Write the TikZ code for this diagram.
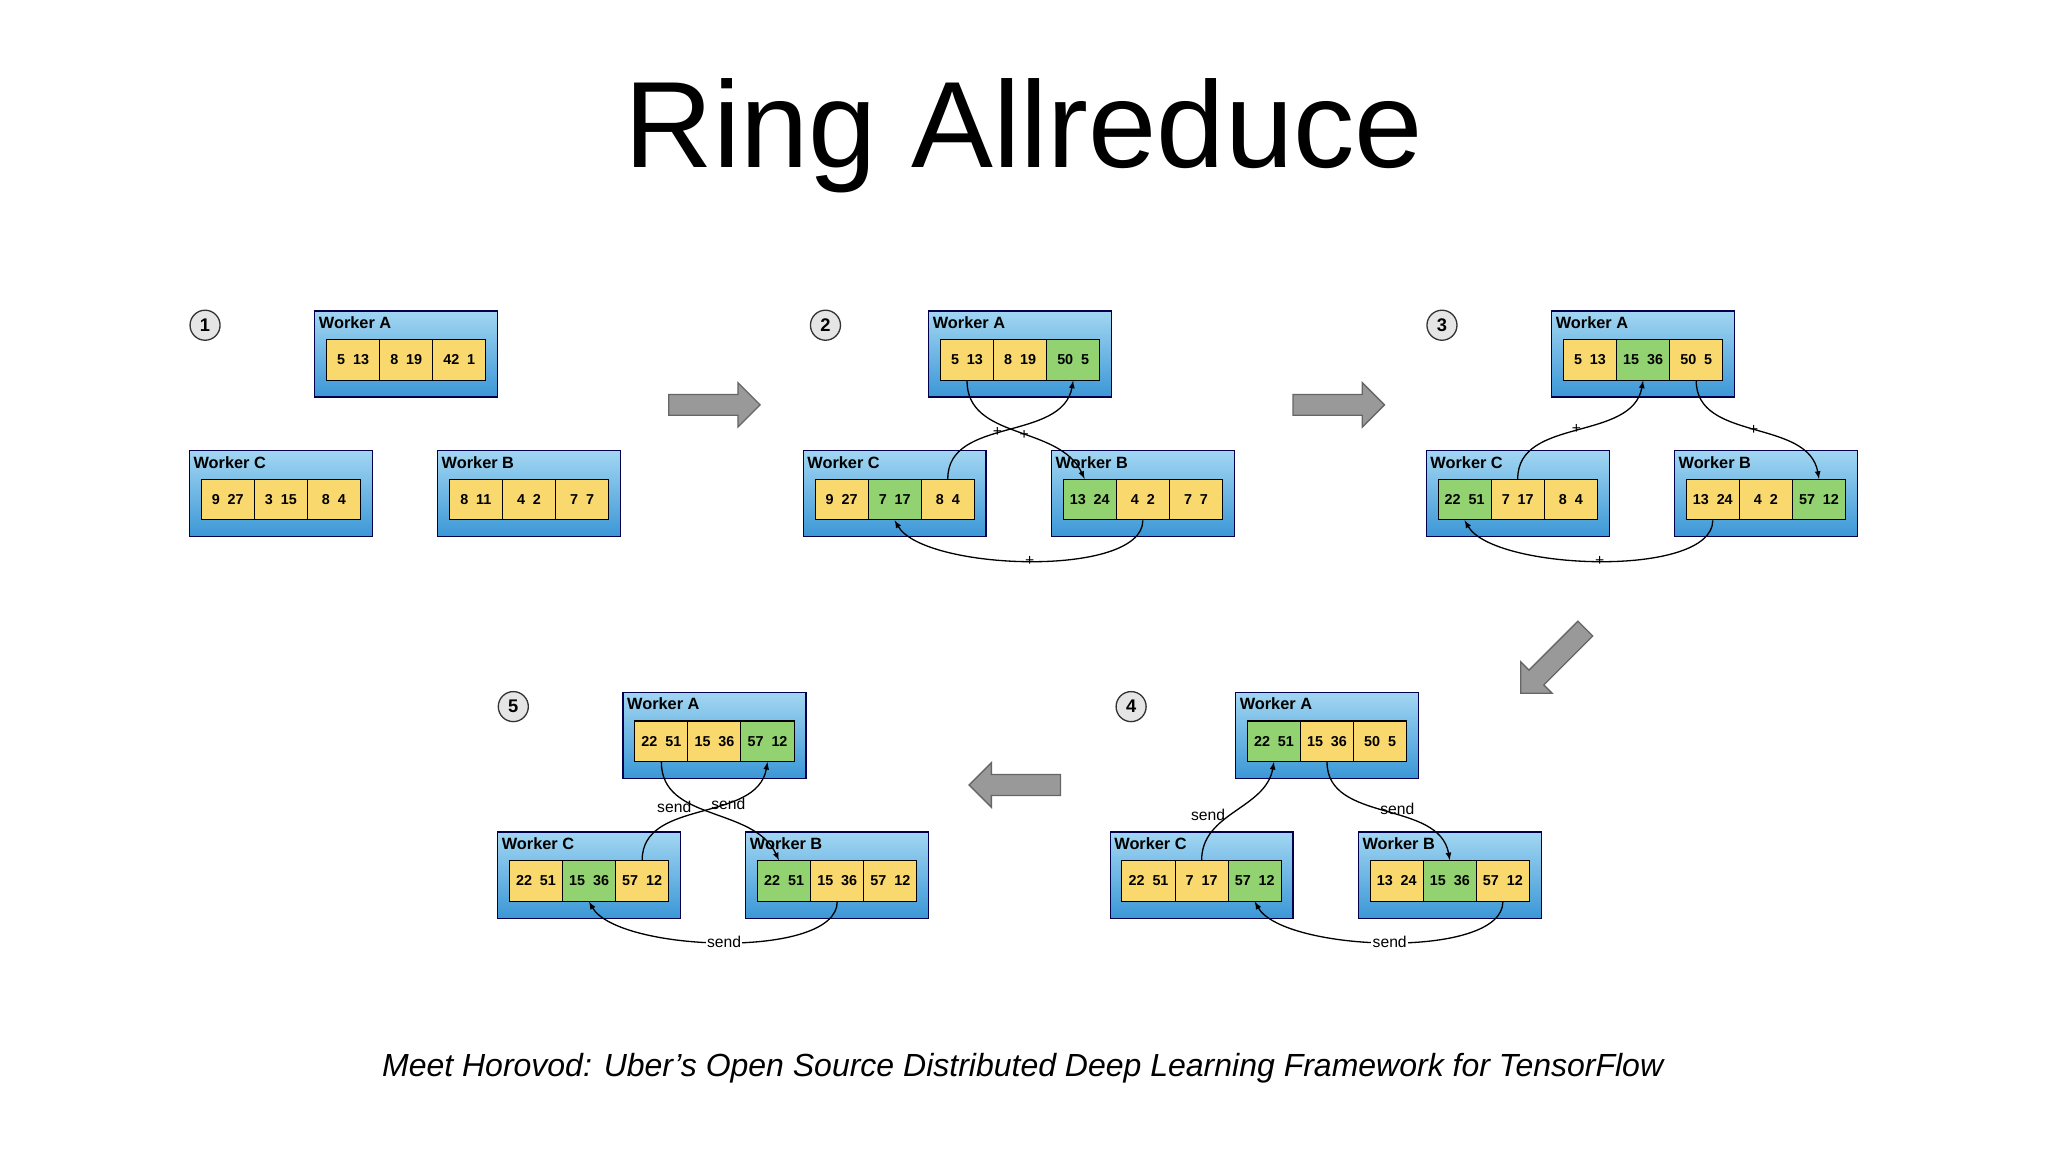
\documentclass[tikz,border=0pt]{standalone}
\usepackage{fontspec}
\setmainfont{Liberation Sans}
\definecolor{btop}{HTML}{A2D6F2}
\definecolor{bbot}{HTML}{3B97D6}
\definecolor{cyel}{HTML}{F9D96E}
\definecolor{cgrn}{HTML}{93D270}
\begin{document}
\begin{tikzpicture}[x=1pt,y=-1pt,
  box/.style={draw=black!70!blue,line width=1pt,top color=btop,bottom color=bbot,minimum width=140pt,minimum height=66pt,inner sep=0pt},
  cell/.style={draw=black,line width=0.8pt,minimum width=40.7pt,minimum height=31pt,inner sep=0pt,font=\fontsize{11}{12}\selectfont\bfseries},
  cy/.style={fill=cyel},
  cg/.style={fill=cgrn},
  wlab/.style={anchor=west,inner sep=0pt,font=\fontsize{12.5}{14}\selectfont\bfseries},
  num/.style={circle,draw=black!80,line width=1pt,fill=black!10,minimum size=23pt,inner sep=0pt,font=\fontsize{14}{16}\selectfont\bfseries},
  conn/.style={draw=black,line width=1pt,-latex},
  lbl/.style={font=\fontsize{12}{14}\selectfont,fill=white,inner sep=1pt},
  big/.style={fill=black!40,draw=black!60,line width=1pt}]
\useasboundingbox[fill=white] (0,0) rectangle (1568,882);
\newcommand\wk[9]{%
 \begin{scope}[shift={#2}]
 \node[box] (#1) at (70,33) {};
 \node[wlab] at (3,9) {Worker #3};
 \node[cell,#7] (#11) at (29.35,37.5) {#4};
 \node[cell,#8] (#12) at (70,37.5) {#5};
 \node[cell,#9] (#13) at (110.65,37.5) {#6};
 \end{scope}}
\newcommand\pr[2]{#1\hspace{0.55em}#2}
\newcommand\bigarrow[3]{\begin{scope}[shift={#1},rotate=#2]
 \draw[big] (-35,-8) -- (18,-8) -- (18,-17) -- (35,0) -- (18,17) -- (18,8) -- (-35,8) -- cycle;
 \coordinate (#3) at (0,0);\end{scope}}
\node[font=\fontsize{94}{106}\selectfont] (title) at (784,104) {Ring Allreduce};
\node[font=\fontsize{24.5}{28}\selectfont\itshape] (cap) at (783,818) {Meet Horovod: Uber’s Open Source Distributed Deep Learning Framework for TensorFlow};
% panel 1
\wk{pa}{(241,238)}{A}{\pr{5}{13}}{\pr{8}{19}}{\pr{42}{1}}{cy}{cy}{cy}
\wk{pc}{(145,345)}{C}{\pr{9}{27}}{\pr{3}{15}}{\pr{8}{4}}{cy}{cy}{cy}
\wk{pb}{(335,345)}{B}{\pr{8}{11}}{\pr{4}{2}}{\pr{7}{7}}{cy}{cy}{cy}
\node[num] (n1) at (157,249) {1};
% panel 2
\wk{qa}{(711,238)}{A}{\pr{5}{13}}{\pr{8}{19}}{\pr{50}{5}}{cy}{cy}{cg}
\wk{qc}{(615,345)}{C}{\pr{9}{27}}{\pr{7}{17}}{\pr{8}{4}}{cy}{cg}{cy}
\wk{qb}{(805,345)}{B}{\pr{13}{24}}{\pr{4}{2}}{\pr{7}{7}}{cg}{cy}{cy}
\node[num] (n2) at (632,249) {2};
\draw[conn] (qc3.north) to[out=90,in=-100] node[pos=.45,lbl,fill=none]{+} (qa3.south);
\draw[conn] (qa1.south) to[out=-90,in=115] node[pos=.55,lbl,fill=none]{+} ([xshift=-4pt]qb1.north);
\draw[conn] (qb2.south) to[out=-90,in=-60,looseness=.6] node[pos=.5,lbl,fill=none]{+} (qc2.south);
% panel 3
\wk{ra}{(1188,238)}{A}{\pr{5}{13}}{\pr{15}{36}}{\pr{50}{5}}{cy}{cg}{cy}
\wk{rc}{(1092,345)}{C}{\pr{22}{51}}{\pr{7}{17}}{\pr{8}{4}}{cg}{cy}{cy}
\wk{rb}{(1282,345)}{B}{\pr{13}{24}}{\pr{4}{2}}{\pr{57}{12}}{cy}{cy}{cg}
\node[num] (n3) at (1104,249) {3};
\draw[conn] (rc2.north) to[out=90,in=-100] node[pos=.5,lbl,fill=none]{+} (ra2.south);
\draw[conn] (ra3.south) to[out=-90,in=100] node[pos=.5,lbl,fill=none]{+} (rb3.north);
\draw[conn] (rb1.south) to[out=-90,in=-60,looseness=.6] node[pos=.5,lbl,fill=none]{+} (rc1.south);
% panel 4
\wk{sa}{(946,530)}{A}{\pr{22}{51}}{\pr{15}{36}}{\pr{50}{5}}{cg}{cy}{cy}
\wk{sc}{(850,637)}{C}{\pr{22}{51}}{\pr{7}{17}}{\pr{57}{12}}{cy}{cy}{cg}
\wk{sb}{(1040,637)}{B}{\pr{13}{24}}{\pr{15}{36}}{\pr{57}{12}}{cy}{cg}{cy}
\node[num] (n4) at (866,541) {4};
\draw[conn] (sc2.north) to[out=90,in=-100] node[pos=.45,left,lbl,fill=none,xshift=-2pt]{send} (sa1.south);
\draw[conn] (sa2.south) to[out=-90,in=100] node[pos=.45,right,lbl,fill=none,xshift=2pt]{send} (sb2.north);
\draw[conn] (sb3.south) to[out=-90,in=-60,looseness=.6] node[pos=.5,lbl]{send} (sc3.south);
% panel 5
\wk{ta}{(477,530)}{A}{\pr{22}{51}}{\pr{15}{36}}{\pr{57}{12}}{cy}{cy}{cg}
\wk{tc}{(381,637)}{C}{\pr{22}{51}}{\pr{15}{36}}{\pr{57}{12}}{cy}{cg}{cy}
\wk{tb}{(571,637)}{B}{\pr{22}{51}}{\pr{15}{36}}{\pr{57}{12}}{cg}{cy}{cy}
\node[num] (n5) at (393,541) {5};
\draw[conn] (tc3.north) to[out=90,in=-100] node[pos=.45,above left,lbl,fill=none,inner sep=0pt]{send} (ta3.south);
\draw[conn] (ta1.south) to[out=-90,in=115] node[pos=.45,above right,lbl,fill=none,inner sep=0pt,xshift=6pt]{send} ([xshift=-4pt]tb1.north);
\draw[conn] (tb2.south) to[out=-90,in=-60,looseness=.6] node[pos=.5,lbl]{send} (tc2.south);
% big arrows
\bigarrow{(547,310)}{0}{g1}
\bigarrow{(1025,310)}{0}{g2}
\bigarrow{(1189,506)}{-135}{g3}
\bigarrow{(777,601)}{180}{g4}
\end{tikzpicture}
\end{document}
